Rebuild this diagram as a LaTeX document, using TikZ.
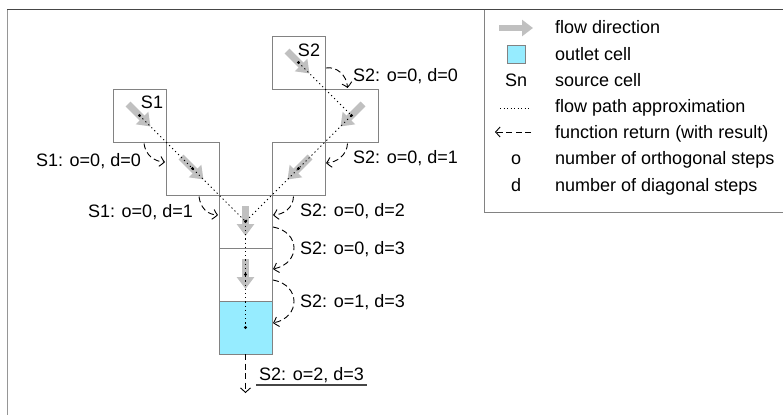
\documentclass[tikz,border=0pt]{standalone}
\usepackage{fontspec}
\setmainfont{Liberation Sans}
\usetikzlibrary{arrows.meta,bending}
\definecolor{cellgray}{RGB}{130,130,130}
\definecolor{flowgray}{RGB}{192,192,192}
\definecolor{outletblue}{RGB}{150,236,255}
\definecolor{framegray}{RGB}{150,150,150}
\definecolor{framedark}{RGB}{70,70,70}
\tikzset{
  cell/.style={draw=cellgray, line width=0.95pt, minimum size=53pt, inner sep=0pt, outer sep=0pt},
  flowarrow/.style={draw=flowgray, line width=7pt, -{Triangle[width=17pt,length=12pt]}},
  ctrdot/.style={fill=black, circle, inner sep=0pt, minimum size=3.2pt},
  flowpath/.style={line width=1pt, dash pattern=on 1.2pt off 3pt},
  ret/.style={line width=0.9pt, dash pattern=on 6pt off 3.5pt, -{Straight Barb[length=4.5pt,width=10pt,bend]}},
  lbl/.style={font=\fontsize{18}{21}\selectfont, inner sep=0pt, text height=13pt, text depth=0pt},
}
\begin{document}
\begin{tikzpicture}[x=1pt,y=-1pt]
\useasboundingbox (0,0) rectangle (783,415);
% frame
\draw[framegray, line width=1.3pt] (7.5,9.5) -- (7.5,415);
\draw[framedark, line width=1.6pt] (7,9.5) -- (783,9.5);
% legend box
\draw[cellgray, line width=1pt] (484,9.5) -- (484,212) -- (783,212);

% cells
\node[cell] (s1) at (139.5,115.5) {};
\node[cell] (a1) at (192.5,168.5) {};
\node[cell] (c1) at (245.5,221.5) {};
\node[cell] (c2) at (245.5,274.5) {};
\node[cell, fill=outletblue] (out) at (245.5,327.5) {};
\node[cell] (s2) at (298.5,62.5) {};
\node[cell] (b1) at (351.5,115.5) {};
\node[cell] (b2) at (298.5,168.5) {};

% source labels
\node[lbl] (s1lab) at (152,102) {S1};
\node[lbl] (s2lab) at (309,50) {S2};

% flow direction arrows
\draw[flowarrow] ([shift={(-11.5,-11.5)}]s1.center) -- ([shift={(11,11)}]s1.center);
\draw[flowarrow] ([shift={(-11.5,-11.5)}]a1.center) -- ([shift={(11,11)}]a1.center);
\draw[flowarrow] ([shift={(-11.5,-11.5)}]s2.center) -- ([shift={(11,11)}]s2.center);
\draw[flowarrow] ([shift={(11.5,-11.5)}]b1.center) -- ([shift={(-11,11)}]b1.center);
\draw[flowarrow] ([shift={(11.5,-11.5)}]b2.center) -- ([shift={(-11,11)}]b2.center);
\draw[flowarrow] ([shift={(0,-15.5)}]c1.center) -- ([shift={(0,14.5)}]c1.center);
\draw[flowarrow] ([shift={(0,-15.5)}]c2.center) -- ([shift={(0,14.5)}]c2.center);

% flow path approximation
\draw[flowpath] (s1.center) -- (c1.center);
\draw[flowpath] (s2.center) -- (b1.center) -- (c1.center);
\draw[flowpath] (c1.center) -- (out.center);
\foreach \n in {s1,a1,c1,c2,out,s2,b1,b2} \node[ctrdot] at (\n.center) {};

% function returns
\coordinate (r1a) at ([shift={(4.5,1.5)}]s1.south);
\coordinate (r1b) at ([shift={(-1,-6.5)}]a1.west);
\draw[ret] (r1a) .. controls ([shift={(1.5,12)}]r1a) and ([shift={(-10,0)}]r1b) .. (r1b);
\coordinate (r2a) at ([shift={(6.5,1.5)}]a1.south);
\coordinate (r2b) at ([shift={(-1,-6.5)}]c1.west);
\draw[ret] (r2a) .. controls ([shift={(1.5,12)}]r2a) and ([shift={(-10,0)}]r2b) .. (r2b);
\coordinate (r3a) at ([shift={(1,5.5)}]s2.east);
\coordinate (r3b) at ([shift={(-4,-1)}]b1.north);
\draw[ret] (r3a) .. controls ([shift={(11,-2)}]r3a) and ([shift={(0,-12)}]r3b) .. (r3b);
\coordinate (r4a) at ([shift={(-4,1.5)}]b1.south);
\coordinate (r4b) at ([shift={(1,-5.5)}]b2.east);
\draw[ret] (r4a) .. controls ([shift={(-0.5,12)}]r4a) and ([shift={(10,0)}]r4b) .. (r4b);
\coordinate (r5a) at ([shift={(-5,1.5)}]b2.south);
\coordinate (r5b) at ([shift={(1,-6.5)}]c1.east);
\draw[ret] (r5a) .. controls ([shift={(-0.5,12)}]r5a) and ([shift={(10,0)}]r5b) .. (r5b);
\coordinate (r6a) at ([shift={(1,5.5)}]c1.east);
\coordinate (r6b) at ([shift={(1,-5.5)}]c2.east);
\draw[ret] (r6a) .. controls ([shift={(28,5)}]r6a) and ([shift={(28,-5)}]r6b) .. (r6b);
\coordinate (r7a) at ([shift={(1,5.5)}]c2.east);
\coordinate (r7b) at ([shift={(1,-4.5)}]out.east);
\draw[ret] (r7a) .. controls ([shift={(28,5)}]r7a) and ([shift={(28,-5)}]r7b) .. (r7b);
\coordinate (fin) at (245.5,393);
\draw[ret] (out.south) -- (fin);

% return labels
\node[lbl, anchor=east] (l1) at (141,160) {S1: o=0, d=0};
\node[lbl, anchor=east] (l2) at (193,211) {S1: o=0, d=1};
\node[lbl, anchor=west] (l3) at (353,75) {S2: o=0, d=0};
\node[lbl, anchor=west] (l4) at (353,157) {S2: o=0, d=1};
\node[lbl, anchor=west] (l5) at (300,210) {S2: o=0, d=2};
\node[lbl, anchor=west] (l6) at (300,248) {S2: o=0, d=3};
\node[lbl, anchor=west] (l7) at (300,301) {S2: o=1, d=3};
\node[lbl, anchor=west] (l8) at (259,374) {S2: o=2, d=3};
\draw[framedark, line width=1.4pt] ([shift={(-3,11)}]l8.west) -- ([shift={(3,11)}]l8.east);

% legend
\draw[flowarrow, line width=6.5pt, -{Triangle[width=16pt,length=11pt]}] (499,28) -- (533,28);
\node[lbl] (lt1) at (555,27) [anchor=west] {flow direction};
\node[draw=cellgray, line width=1pt, fill=outletblue, minimum size=18pt, inner sep=0pt] (lsq) at (516,54) {};
\node[lbl, anchor=west] (lt2) at (555,54) {outlet cell};
\node[lbl] (lsn) at (516,80) {Sn};
\node[lbl, anchor=west] (lt3) at (555,80) {source cell};
\draw[flowpath, line width=0.8pt, dash pattern=on 1pt off 2.5pt] (500,108) -- (531,108);
\node[lbl, anchor=west] (lt4) at (555,106) {flow path approximation};
\draw[ret] (531,132) -- (495,132);
\node[lbl, anchor=west] (lt5) at (555,132) {function return (with result)};
\node[lbl] (lo) at (516,158) {o};
\node[lbl, anchor=west] (lt6) at (555,158) {number of orthogonal steps};
\node[lbl] (ld) at (516,185) {d};
\node[lbl, anchor=west] (lt7) at (555,185) {number of diagonal steps};
\end{tikzpicture}
\end{document}
